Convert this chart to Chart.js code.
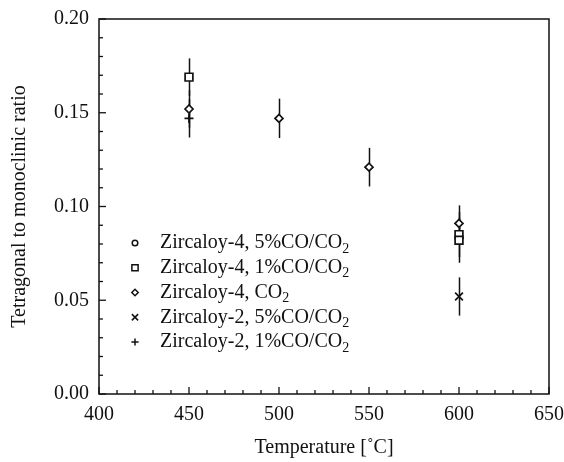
<!DOCTYPE html>
<html><head><meta charset="utf-8">
<script src="https://cdn.jsdelivr.net/npm/chart.js@4.4.1/dist/chart.umd.min.js"></script>
<style>html,body{margin:0;padding:0;background:#fff}#wrap{width:564px;height:462px;position:relative}</style>
</head><body><div id="wrap"><canvas id="c" width="564" height="462"></canvas></div>
<script>
// ---- data ----
const xTickLabels = [400, 450, 500, 550, 600, 650];
const yTickLabels = [0.00, 0.05, 0.10, 0.15, 0.20];
const seriesLabels = ['Zircaloy-4, 5%CO/CO₂', 'Zircaloy-4, 1%CO/CO₂', 'Zircaloy-4, CO₂', 'Zircaloy-2, 5%CO/CO₂', 'Zircaloy-2, 1%CO/CO₂'];

const zr4_5co_T = [];
const zr4_5co_R = [];
const zr4_5co_E = [];

const zr4_1co_T = [450, 600, 600];
const zr4_1co_R = [0.169, 0.085, 0.082];
const zr4_1co_E = [0.010, 0.012, 0.012];

const zr4_co2_T = [450, 500, 550, 600];
const zr4_co2_R = [0.152, 0.147, 0.121, 0.091];
const zr4_co2_E = [0.010, 0.0105, 0.0103, 0.0096];

const zr2_5co_T = [600];
const zr2_5co_R = [0.052];
const zr2_5co_E = [0.0102];

const zr2_1co_T = [450];
const zr2_1co_R = [0.147];
const zr2_1co_E = [0.0102];

const seriesT = [zr4_5co_T, zr4_1co_T, zr4_co2_T, zr2_5co_T, zr2_1co_T];
const seriesR = [zr4_5co_R, zr4_1co_R, zr4_co2_R, zr2_5co_R, zr2_1co_R];
const seriesE = [zr4_5co_E, zr4_1co_E, zr4_co2_E, zr2_5co_E, zr2_1co_E];

// ---- styles ----
const INK = '#111';
const FONT = 'Liberation Serif, Times New Roman, serif';
const styles = [
  {pointStyle: 'circle', radius: 3.5},
  {pointStyle: 'rect', radius: 5.5},
  {pointStyle: 'rectRot', radius: 4},
  {pointStyle: 'crossRot', radius: 5.5},
  {pointStyle: 'cross', radius: 4.5}
];

const datasets = seriesLabels.map((lab, i) => ({
  label: lab,
  data: seriesT[i].map((t, j) => ({x: t, y: seriesR[i][j]})),
  errors: seriesE[i],
  showLine: false,
  pointStyle: styles[i].pointStyle,
  pointRadius: styles[i].radius,
  pointBorderColor: INK,
  pointBackgroundColor: '#fff',
  pointBorderWidth: 1.7,
  borderColor: INK,
  backgroundColor: '#fff'
}));

const decorPlugin = {
  id: 'decor',
  beforeDatasetsDraw(chart) {
    const ctx = chart.ctx, xs = chart.scales.x, ys = chart.scales.y;
    ctx.save();
    ctx.strokeStyle = INK; ctx.lineWidth = 1.5;
    chart.data.datasets.forEach(ds => {
      ds.data.forEach((p, j) => {
        const e = ds.errors[j];
        const px = Math.round(xs.getPixelForValue(p.x)) + 0.5;
        ctx.beginPath();
        ctx.moveTo(px, ys.getPixelForValue(p.y + e));
        ctx.lineTo(px, ys.getPixelForValue(p.y - e));
        ctx.stroke();
      });
    });
    ctx.restore();
  },
  afterDraw(chart) {
    const ctx = chart.ctx, xs = chart.scales.x, ys = chart.scales.y;
    const a = chart.chartArea;
    ctx.save();
    ctx.strokeStyle = INK; ctx.lineWidth = 1.5;
    // frame
    ctx.strokeRect(a.left, a.top, a.right - a.left, a.bottom - a.top);
    // inward ticks on bottom axis
    ctx.lineWidth = 1.3;
    for (let v = 400; v <= 650; v += 10) {
      const px = xs.getPixelForValue(v);
      const major = (v % 50 === 0);
      ctx.beginPath();
      ctx.moveTo(px, a.bottom);
      ctx.lineTo(px, a.bottom - (major ? 7 : 4));
      ctx.stroke();
    }
    // inward ticks on left axis
    for (let k = 0; k <= 20; k++) {
      const v = k / 100;
      const py = ys.getPixelForValue(v);
      const major = (k % 5 === 0);
      ctx.beginPath();
      ctx.moveTo(a.left, py);
      ctx.lineTo(a.left + (major ? 7 : 4), py);
      ctx.stroke();
    }
    // legend
    const mx = 135, tx = 160, y0 = 243, dy = 24.75;
    chart.data.datasets.forEach((ds, i) => {
      const y = y0 + i * dy;
      ctx.fillStyle = '#fff'; ctx.strokeStyle = INK; ctx.lineWidth = 1.5;
      Chart.helpers.drawPoint(ctx, {pointStyle: ds.pointStyle, radius: ds.pointRadius * 0.8, borderWidth: 1.5, rotation: 0}, mx, y);
      const parts = ds.label.split('₂');
      ctx.fillStyle = INK;
      ctx.textBaseline = 'middle';
      ctx.textAlign = 'left';
      ctx.font = '20px ' + FONT;
      const main = parts[0];
      ctx.fillText(main, tx, y);
      const w = ctx.measureText(main).width;
      if (parts.length > 1) {
        ctx.font = '14px ' + FONT;
        ctx.fillText('2', tx + w, y + 6);
      }
    });
    ctx.restore();
  }
};

new Chart(document.getElementById('c'), {
  type: 'scatter',
  data: {datasets},
  options: {
    responsive: false,
    animation: false,
    events: [],
    layout: {padding: {top: 19, right: 15, left: 0, bottom: 0}},
    plugins: {legend: {display: false}, tooltip: {enabled: false}},
    scales: {
      x: {
        type: 'linear', min: 400, max: 650,
        afterBuildTicks(s) { s.ticks = xTickLabels.map(v => ({value: v})); },
        afterFit(s) { s.height = 68; s.paddingLeft = 0; s.paddingRight = 0; },
        grid: {display: false, drawTicks: false},
        border: {display: false},
        ticks: {color: INK, font: {family: FONT, size: 20}, padding: 9, maxRotation: 0, autoSkip: false},
        title: {display: true, text: 'Temperature [˚C]', color: INK, font: {family: FONT, size: 20}, padding: {top: 0, bottom: 2}}
      },
      y: {
        type: 'linear', min: 0, max: 0.2,
        afterBuildTicks(s) { s.ticks = yTickLabels.map(v => ({value: v})); },
        afterFit(s) { s.width = 99; s.paddingTop = 0; s.paddingBottom = 0; },
        grid: {display: false, drawTicks: false},
        border: {display: false},
        ticks: {color: INK, font: {family: FONT, size: 20}, padding: 10, callback: v => Number(v).toFixed(2)},
        title: {display: true, text: 'Tetragonal to monoclinic ratio', color: INK, font: {family: FONT, size: 20}, padding: {top: 8, bottom: 0}}
      }
    }
  },
  plugins: [decorPlugin]
});
</script>
</body></html>
